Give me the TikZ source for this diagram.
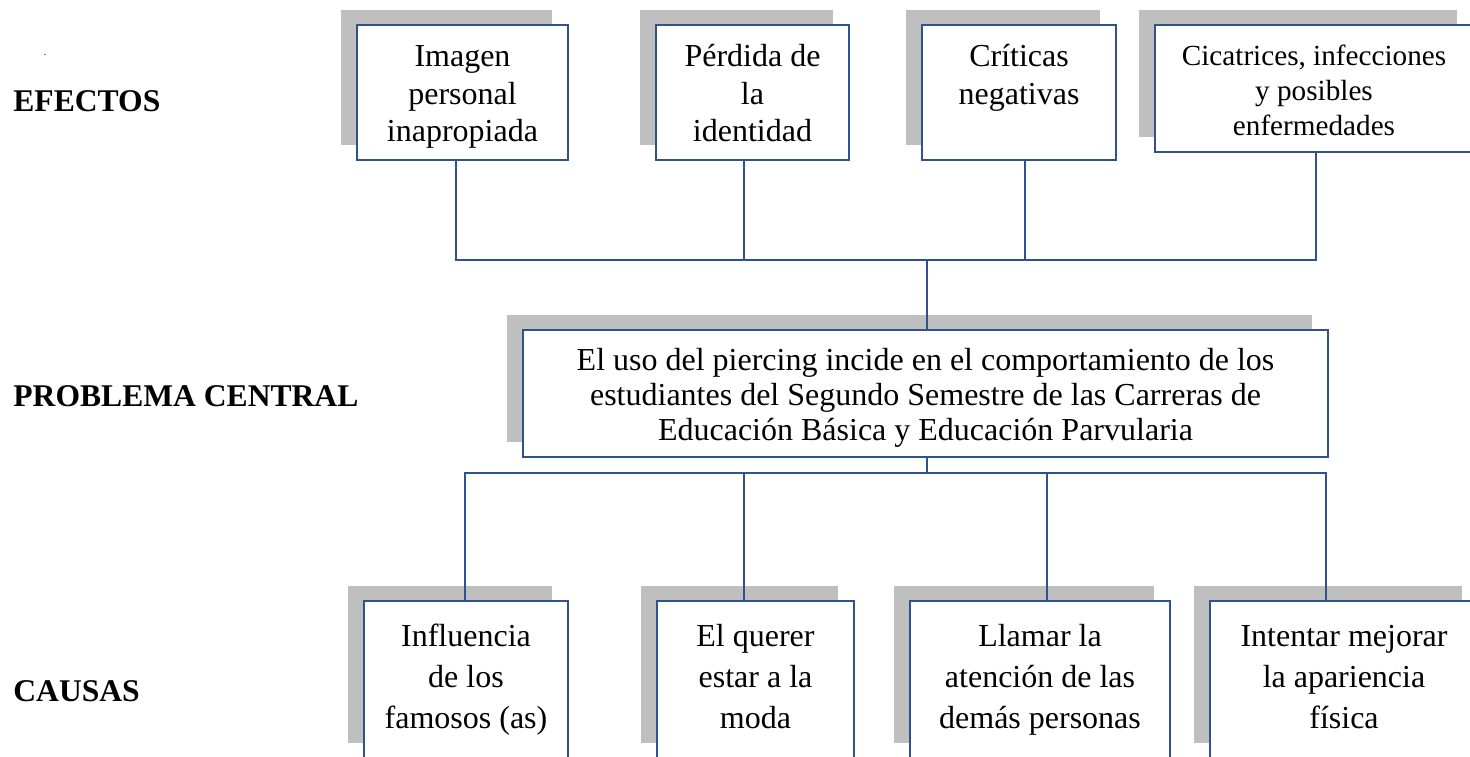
\documentclass[tikz,border=0pt]{standalone}
\usepackage{fontspec}
\setmainfont{Liberation Serif}
\usetikzlibrary{shadows}
\definecolor{bordercol}{HTML}{2F528F}
\definecolor{shadowcol}{HTML}{BFBFBF}
\begin{document}
\begin{tikzpicture}[x=0.5pt,y=-0.5pt,
  box/.style={draw=bordercol, line width=1pt, fill=white, rectangle, inner sep=0pt, align=center,
    general shadow={fill=shadowcol, draw=none, shadow xshift=-8pt, shadow yshift=7.75pt}},
  topfont/.style={font=\fontsize{16}{18.9}\selectfont},
  smallfont/.style={font=\fontsize{14.6}{17.5}\selectfont},
  centerfont/.style={font=\fontsize{16}{17.5}\selectfont},
  botfont/.style={font=\fontsize{16}{20.5}\selectfont},
  conn/.style={draw=bordercol, line width=0.9pt},
  lbl/.style={font=\fontsize{15.8}{18}\selectfont\bfseries, anchor=west, inner sep=0pt}]
\useasboundingbox (0,0) rectangle (1470,756);

% labels
\node[font=\fontsize{5}{5}\selectfont, inner sep=0pt] (dot) at (45,55) {.};
\node[lbl] (lef) at (13,101.5) {EFECTOS};
\node[lbl] (lpc) at (13,396) {PROBLEMA CENTRAL};
\node[lbl] (lca) at (13,691.5) {CAUSAS};

% effects
\node[box, topfont, minimum width=105.5pt, minimum height=67.5pt] (e1) at (462.5,92.5) {\rule{0pt}{17.2pt}Imagen\\personal\\inapropiada\strut};
\node[box, topfont, minimum width=96.5pt, minimum height=67.5pt] (e2) at (752.5,92.5) {\rule{0pt}{17.2pt}Pérdida de\\la\\identidad\strut};
\node[box, topfont, minimum width=97pt, minimum height=67.5pt] (e3) at (1019,92.5) {\rule{0pt}{17.2pt}Críticas\\negativas\\\strut};
\node[box, smallfont, minimum width=159pt, minimum height=63.5pt] (e4) at (1314,88.5) {\rule{0pt}{17.25pt}Cicatrices, infecciones\\y posibles\\enfermedades\strut};

% central problem
\node[box, centerfont, minimum width=402.5pt, minimum height=63.5pt] (p) at (925.5,393.5) {\rule{0pt}{17.25pt}El uso del piercing incide en el comportamiento de los\\estudiantes del Segundo Semestre de las Carreras de\\Educación Básica y Educación Parvularia\strut};

% causes
\node[box, botfont, minimum width=102pt, minimum height=78.5pt] (c1) at (466,679.5) {\strut Influencia\\de los\\famosos (as)\strut};
\node[box, botfont, minimum width=98.5pt, minimum height=78.5pt] (c2) at (755.5,679.5) {\strut El querer\\estar a la\\moda\strut};
\node[box, botfont, minimum width=130pt, minimum height=78.5pt] (c3) at (1040,679.5) {\strut Llamar la\\atención de las\\demás personas\strut};
\node[box, botfont, minimum width=134pt, minimum height=78.5pt] (c4) at (1344,679.5) {\strut Intentar mejorar\\la apariencia\\física\strut};

% connectors
\coordinate (tb) at (927,260);
\coordinate (bb) at (927,473);
\draw[conn] ([xshift=-3.25pt]e1.south) |- (tb);
\draw[conn] ([xshift=-4.25pt]e2.south) |- (tb);
\draw[conn] ([xshift=3pt]e3.south) |- (tb);
\draw[conn] ([xshift=1pt]e4.south) |- (tb);
\draw[conn] (tb) -- (tb |- p.north);
\draw[conn] (bb |- p.south) -- (bb);
\draw[conn] (bb) -| ([xshift=-0.5pt]c1.north);
\draw[conn] (bb) -| ([xshift=-5.75pt]c2.north);
\draw[conn] (bb) -| ([xshift=3.5pt]c3.north);
\draw[conn] (bb) -| ([xshift=-9pt]c4.north);
\end{tikzpicture}
\end{document}
